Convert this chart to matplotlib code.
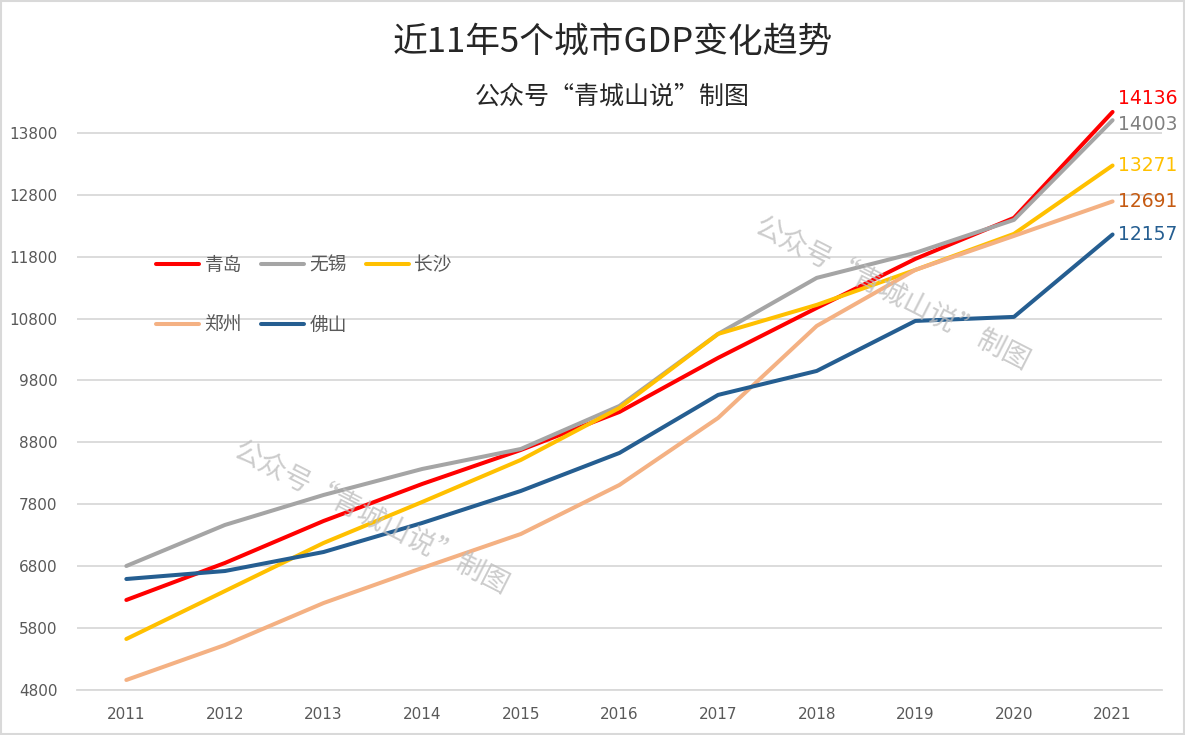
import matplotlib.pyplot as plt
from matplotlib.patches import Rectangle

plt.rcParams['font.family'] = ['Noto Sans CJK SC', 'DejaVu Sans']

# 数据
years = ['2011', '2012', '2013', '2014', '2015', '2016', '2017', '2018', '2019', '2020', '2021']
qingdao = [6254, 6852, 7530, 8128, 8677, 9291, 10164, 10971, 11763, 12425, 14136]
wuxi = [6803, 7466, 7950, 8370, 8693, 9388, 10551, 11456, 11860, 12393, 14003]
changsha = [5624, 6399, 7175, 7837, 8516, 9356, 10551, 11020, 11585, 12167, 13271]
zhengzhou = [4962, 5527, 6205, 6771, 7320, 8112, 9194, 10680, 11585, 12134, 12691]
foshan = [6593, 6722, 7029, 7498, 8015, 8629, 9566, 9953, 10761, 10826, 12157]
names = ['青岛', '无锡', '长沙', '郑州', '佛山']
yticks = [4800, 5800, 6800, 7800, 8800, 9800, 10800, 11800, 12800, 13800]

series = [qingdao, wuxi, changsha, zhengzhou, foshan]
colors = ['#FF0000', '#A5A5A5', '#FFC000', '#F4B183', '#255E91']
label_colors = ['#FF0000', '#808080', '#FFC000', '#C55A11', '#255E91']
label_shift = [10, -3, 0, 0, 0]  # 末端标签上下偏移(pt)

fig = plt.figure(figsize=(11.85, 7.35), dpi=100)
ax = fig.add_axes([0.065, 0.0612, 0.9155, 0.834])

x = list(range(len(years)))
lines = []
for s, c, n in zip(series, colors, names):
    ln, = ax.plot(x, s, color=c, lw=2.9, label=n, solid_capstyle='round')
    lines.append(ln)

# 末端数值标签
for s, c, dy in zip(series, label_colors, label_shift):
    ax.annotate(str(s[-1]), (x[-1], s[-1]), xytext=(4, dy), textcoords='offset points',
                color=c, fontsize=13.5, va='center', ha='left',
                family=['DejaVu Sans'], annotation_clip=False)

ax.set_xlim(-0.5, len(years) - 0.5)
ax.set_ylim(4800, 14700)
ax.set_yticks(yticks)
ax.set_xticks(x)
ax.set_xticklabels(years)
ax.tick_params(length=0, labelsize=11, colors='#595959', pad=14)
ax.tick_params(axis='x', pad=12)
for lab in ax.get_yticklabels() + ax.get_xticklabels():
    lab.set_family(['DejaVu Sans'])
ax.grid(axis='y', color='#D9D9D9', lw=1.3)
ax.set_axisbelow(True)
for sp in ['top', 'left', 'right']:
    ax.spines[sp].set_visible(False)
ax.spines['bottom'].set_color('#D9D9D9')
ax.spines['bottom'].set_linewidth(1.3)

# 图例(按行排列)
order = [0, 3, 1, 4, 2]
leg = ax.legend([lines[i] for i in order], [names[i] for i in order], ncol=3,
                frameon=False, loc='upper left', bbox_to_anchor=(0.057, 0.738),
                handlelength=2.3, handletextpad=0.3, columnspacing=1.0,
                labelspacing=2.1, fontsize=13.5)
for t in leg.get_texts():
    t.set_color('#595959')

# 标题
fig.text(0.517, 0.943, '近11年5个城市GDP变化趋势', ha='center', va='center',
         fontsize=25, color='#262626')
fig.text(0.517, 0.869, '公众号“青城山说”制图', ha='center', va='center',
         fontsize=18, color='#262626')

# 水印
for wx, wy in [(0.313, 0.295), (0.753, 0.6)]:
    fig.text(wx, wy, '公众号“青城山说”制图', rotation=-27, ha='center', va='center',
             fontsize=20, color='#BFBFBF', alpha=0.8)

# 外框
fig.patches.append(Rectangle((0.001, 0.001), 0.998, 0.998, transform=fig.transFigure,
                             fill=False, edgecolor='#D9D9D9', lw=1.5))

fig.savefig('out.png', dpi=100)
